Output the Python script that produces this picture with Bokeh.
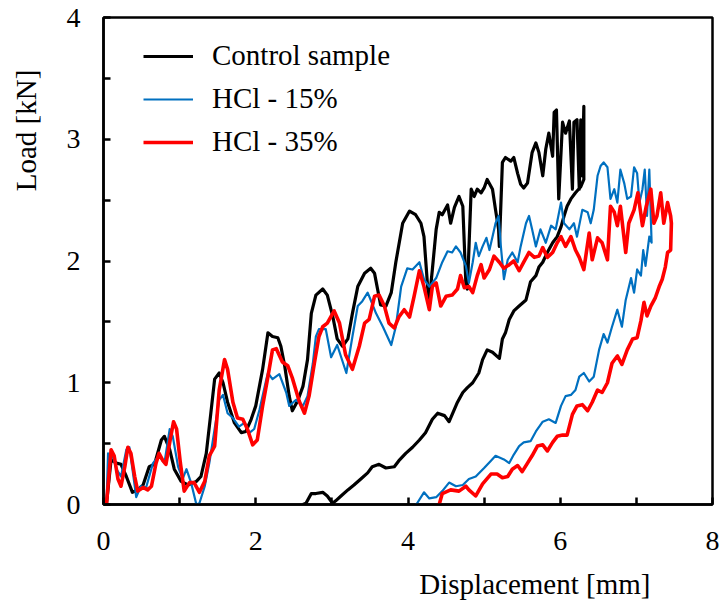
from bokeh.plotting import figure
from bokeh.models import FixedTicker, Legend, LegendItem, Range1d
from bokeh.embed import file_html
from bokeh.resources import INLINE

# ---------------- data (displacement [mm], load [kN]) ----------------
ctrl_x = [0, 0.04, 0.10, 0.17, 0.23, 0.30, 0.38, 0.45, 0.52, 0.60, 0.67, 0.76, 0.80, 0.87, 0.93,
          1.02, 1.11, 1.22, 1.28, 1.35, 1.41, 1.46, 1.52, 1.57, 1.63, 1.72, 1.81, 1.87, 1.94, 2.00,
          2.09, 2.16, 2.22, 2.29, 2.33, 2.38, 2.44, 2.48, 2.55, 2.62, 2.68, 2.73, 2.79, 2.88, 2.94,
          3.01, 3.07, 3.14, 3.21, 3.27, 3.34, 3.43, 3.51, 3.56, 3.60, 3.64, 3.71, 3.78, 3.84, 3.93,
          4.02, 4.10, 4.17, 4.21, 4.26, 4.28, 4.32, 4.37, 4.41, 4.45, 4.52, 4.56, 4.61, 4.67, 4.72,
          4.76, 4.78, 4.83, 4.87, 4.91, 4.96, 5.00, 5.04, 5.11, 5.15, 5.19, 5.20, 5.24, 5.28, 5.35,
          5.39, 5.44, 5.48, 5.52, 5.57, 5.63, 5.68, 5.72, 5.77, 5.81, 5.85, 5.90, 5.92, 5.95, 5.98,
          6.03, 6.07, 6.12, 6.16, 6.18, 6.22, 6.25, 6.27, 6.29, 6.31, 6.31,
          6.27, 6.20, 6.14, 6.09, 6.05, 6.01, 5.96, 5.90, 5.83, 5.77, 5.72, 5.68, 5.61, 5.55, 5.46,
          5.39, 5.33, 5.28, 5.24, 5.20, 5.11, 5.04, 4.98, 4.93, 4.85, 4.78, 4.72, 4.65, 4.54, 4.48,
          4.39, 4.32, 4.23, 4.15, 4.06, 3.97, 3.88, 3.82, 3.71, 3.62, 3.53, 3.47, 3.38, 3.29, 3.21,
          3.12, 3.05, 3.01, 2.94, 2.88, 2.79, 2.73, 2.66, 2.62]
ctrl_y = [0, 0.01, 0.37, 0.34, 0.33, 0.23, 0.10, 0.12, 0.16, 0.31, 0.33, 0.53, 0.56, 0.45, 0.29,
          0.19, 0.16, 0.19, 0.23, 0.42, 0.75, 1.03, 1.08, 1.00, 0.84, 0.67, 0.59, 0.60, 0.70, 0.81,
          1.11, 1.41, 1.38, 1.37, 1.30, 1.14, 0.89, 0.77, 0.85, 0.97, 1.19, 1.57, 1.72, 1.77, 1.72,
          1.55, 1.36, 1.30, 1.36, 1.57, 1.79, 1.90, 1.94, 1.90, 1.77, 1.64, 1.63, 1.74, 1.99, 2.31,
          2.41, 2.38, 2.31, 2.20, 1.77, 1.68, 1.93, 2.26, 2.40, 2.38, 2.46, 2.31, 2.44, 2.53, 2.45,
          1.82, 1.77, 2.59, 2.53, 2.59, 2.56, 2.60, 2.67, 2.59, 2.42, 2.26, 2.12, 2.81, 2.85, 2.82,
          2.85, 2.72, 2.63, 2.60, 2.64, 2.89, 2.97, 2.89, 2.70, 2.92, 3.05, 2.86, 3.22, 3.24, 2.51,
          3.14, 3.05, 3.15, 2.59, 3.14, 3.16, 2.59, 3.16, 2.70, 3.27, 2.67,
          2.61, 2.56, 2.51, 2.45, 2.37, 2.28, 2.20, 2.15, 2.07, 1.99, 1.95, 1.88, 1.83, 1.68, 1.63,
          1.59, 1.52, 1.41, 1.36, 1.20, 1.25, 1.27, 1.19, 1.08, 1.00, 0.96, 0.92, 0.84, 0.68, 0.73,
          0.75, 0.70, 0.59, 0.53, 0.47, 0.42, 0.36, 0.31, 0.30, 0.33, 0.31, 0.26, 0.21, 0.16, 0.12,
          0.07, 0.03, 0.01, 0.07, 0.10, 0.09, 0.09, 0.01, 0.0]

hcl15_x = [0, 0.04, 0.06, 0.12, 0.17, 0.23, 0.30, 0.34, 0.38, 0.43, 0.49, 0.56, 0.65, 0.73, 0.80,
           0.87, 0.91, 0.98, 1.04, 1.09, 1.15, 1.22, 1.26, 1.33, 1.39, 1.46, 1.52, 1.57, 1.63, 1.70,
           1.78, 1.85, 1.92, 1.98, 2.05, 2.14, 2.16, 2.22, 2.31, 2.40, 2.44, 2.53, 2.62, 2.68, 2.75,
           2.79, 2.83, 2.92, 2.99, 3.07, 3.19, 3.27, 3.34, 3.40, 3.47, 3.51, 3.58, 3.67, 3.78, 3.84,
           3.91, 3.99, 4.06, 4.15, 4.21, 4.28, 4.37, 4.45, 4.52, 4.58, 4.63, 4.69, 4.76, 4.80, 4.85,
           4.89, 4.93, 4.98, 5.03, 5.07, 5.11, 5.15, 5.19, 5.22, 5.26, 5.31, 5.37, 5.44, 5.48, 5.55,
           5.59, 5.63, 5.68, 5.74, 5.81, 5.88, 5.94, 6.01, 6.05, 6.12, 6.18, 6.22, 6.29, 6.36, 6.40,
           6.44, 6.49, 6.53, 6.57, 6.62, 6.66, 6.71, 6.75, 6.79, 6.84, 6.88, 6.93, 6.97, 7.01, 7.04,
           7.08, 7.11, 7.14, 7.17, 7.20,
           7.17, 7.12, 7.09, 7.06, 7.01, 6.97, 6.93, 6.86, 6.81, 6.75, 6.68, 6.62, 6.57, 6.51, 6.44,
           6.38, 6.31, 6.25, 6.20, 6.14, 6.07, 6.01, 5.94, 5.85, 5.77, 5.68, 5.61, 5.52, 5.46, 5.39,
           5.33, 5.26, 5.15, 5.09, 5.00, 4.89, 4.80, 4.72, 4.63, 4.54, 4.45, 4.37, 4.28, 4.21, 4.12,
           4.10]
hcl15_y = [0, 0.02, 0.42, 0.40, 0.29, 0.23, 0.45, 0.47, 0.29, 0.06, 0.15, 0.14, 0.34, 0.40, 0.34,
           0.62, 0.56, 0.31, 0.21, 0.29, 0.18, 0.0, 0.01, 0.15, 0.34, 0.62, 0.86, 0.90, 0.75, 0.71,
           0.64, 0.67, 0.59, 0.62, 0.78, 1.03, 1.08, 1.03, 1.07, 0.92, 0.81, 0.86, 0.81, 0.89, 1.16,
           1.38, 1.44, 1.44, 1.21, 1.31, 1.08, 1.38, 1.63, 1.67, 1.74, 1.68, 1.57, 1.46, 1.31, 1.46,
           1.79, 1.94, 1.93, 1.99, 1.85, 1.79, 1.86, 1.99, 2.08, 2.07, 2.12, 2.07, 1.96, 1.82, 1.99,
           2.15, 2.04, 2.12, 2.19, 2.09, 2.20, 2.31, 2.37, 2.12, 1.85, 2.01, 2.07, 1.99, 2.12, 2.31,
           2.37, 2.26, 2.12, 2.26, 2.15, 2.29, 2.26, 2.48, 2.31, 2.26, 2.31, 2.20, 2.42, 2.40, 2.31,
           2.42, 2.70, 2.78, 2.81, 2.77, 2.51, 2.59, 2.48, 2.75, 2.64, 2.51, 2.53, 2.77, 2.72, 2.48,
           2.59, 2.75, 2.37, 2.75, 2.15,
           2.20, 1.96, 2.09, 1.88, 1.93, 1.74, 1.86, 1.68, 1.46, 1.60, 1.46, 1.33, 1.40, 1.27, 1.05,
           1.01, 1.08, 1.05, 0.94, 0.90, 0.89, 0.81, 0.67, 0.70, 0.68, 0.60, 0.52, 0.51, 0.48, 0.41,
           0.34, 0.37, 0.40, 0.36, 0.30, 0.23, 0.21, 0.16, 0.15, 0.18, 0.11, 0.06, 0.05, 0.10, 0.01,
           0.0]

hcl35_x = [0, 0.04, 0.10, 0.14, 0.19, 0.23, 0.28, 0.32, 0.36, 0.41, 0.45, 0.52, 0.58, 0.63, 0.69,
           0.73, 0.78, 0.82, 0.87, 0.92, 0.96, 1.01, 1.06, 1.13, 1.19, 1.26, 1.33, 1.39, 1.46, 1.52,
           1.59, 1.63, 1.70, 1.76, 1.83, 1.89, 1.96, 2.02, 2.09, 2.16, 2.22, 2.27, 2.35, 2.42, 2.48,
           2.57, 2.64, 2.70, 2.77, 2.83, 2.88, 2.94, 3.03, 3.10, 3.18, 3.27, 3.36, 3.43, 3.49, 3.56,
           3.62, 3.69, 3.75, 3.82, 3.88, 3.95, 4.02, 4.08, 4.15, 4.21, 4.28, 4.32, 4.37, 4.43, 4.50,
           4.58, 4.65, 4.69, 4.74, 4.80, 4.85, 4.91, 4.96, 5.00, 5.07, 5.13, 5.20, 5.26, 5.33, 5.39,
           5.46, 5.52, 5.59, 5.66, 5.72, 5.77, 5.83, 5.90, 5.96, 6.01, 6.07, 6.14, 6.20, 6.25, 6.31,
           6.38, 6.42, 6.49, 6.55, 6.62, 6.66, 6.71, 6.75, 6.79, 6.86, 6.90, 6.97, 7.02, 7.08, 7.13,
           7.19, 7.23, 7.27, 7.32, 7.36, 7.41, 7.45, 7.46,
           7.45, 7.41, 7.38, 7.34, 7.30, 7.25, 7.19, 7.14, 7.10, 7.06, 7.01, 6.95, 6.88, 6.81, 6.75,
           6.68, 6.62, 6.55, 6.49, 6.42, 6.36, 6.29, 6.22, 6.16, 6.09, 6.03, 5.96, 5.90, 5.83, 5.77,
           5.70, 5.63, 5.57, 5.50, 5.44, 5.37, 5.31, 5.24, 5.17, 5.09, 4.98, 4.89, 4.80, 4.76, 4.67,
           4.56, 4.45, 4.41]
hcl35_y = [0, 0.01, 0.45, 0.40, 0.21, 0.15, 0.31, 0.47, 0.42, 0.23, 0.11, 0.14, 0.12, 0.15, 0.34,
           0.42, 0.36, 0.33, 0.51, 0.68, 0.62, 0.34, 0.11, 0.18, 0.18, 0.10, 0.19, 0.40, 0.48, 0.94,
           1.19, 1.11, 0.84, 0.71, 0.70, 0.62, 0.49, 0.53, 0.81, 1.05, 1.27, 1.28, 1.17, 1.14, 1.04,
           0.85, 0.75, 0.89, 1.16, 1.38, 1.46, 1.49, 1.59, 1.49, 1.23, 1.11, 1.30, 1.49, 1.52, 1.71,
           1.72, 1.63, 1.49, 1.45, 1.54, 1.60, 1.54, 1.71, 1.92, 1.79, 1.60, 1.79, 1.82, 1.63, 1.71,
           1.72, 1.77, 1.88, 1.78, 1.79, 1.74, 1.88, 1.97, 1.86, 1.93, 2.04, 1.99, 1.94, 1.97, 2.00,
           1.92, 1.99, 2.07, 2.03, 2.04, 2.11, 2.03, 2.07, 2.15, 2.20, 2.12, 2.20, 2.09, 2.03, 1.93,
           2.23, 2.01, 2.19, 2.15, 2.01, 2.45, 2.40, 2.29, 2.45, 2.07, 2.31, 2.42, 2.56, 2.29, 2.45,
           2.59, 2.31, 2.37, 2.56, 2.31, 2.48, 2.37, 2.31,
           2.09, 2.07, 1.95, 1.85, 1.79, 1.70, 1.63, 1.55, 1.66, 1.51, 1.37, 1.36, 1.27, 1.15, 1.22,
           1.16, 1.00, 0.92, 0.94, 0.84, 0.77, 0.82, 0.81, 0.74, 0.57, 0.57, 0.56, 0.51, 0.44, 0.49,
           0.48, 0.40, 0.34, 0.27, 0.32, 0.29, 0.23, 0.22, 0.25, 0.25, 0.17, 0.07, 0.12, 0.15, 0.11,
           0.12, 0.09, 0.0]

series_names = ["Control sample", "HCl - 15%", "HCl - 35%"]
x_ticks = [0, 2, 4, 6, 8]
x_minor = [1, 3, 5, 7]
y_ticks = [0, 1, 2, 3, 4]
y_minor = [0.5, 1.5, 2.5, 3.5]
x_title = "Displacement [mm]"
y_title = "Load [kN]"

# ---------------- figure ----------------
SERIF = "Liberation Serif"
NBSP = "\u00a0"
p = figure(width=720, height=604, output_backend="svg", toolbar_location=None,
           x_range=Range1d(0, 8), y_range=Range1d(0, 4),
           min_border_left=103, min_border_right=8, min_border_top=17, min_border_bottom=100)
p.background_fill_color = "white"
p.border_fill_color = "white"
p.outline_line_color = "black"
p.outline_line_width = 2.5
p.xgrid.visible = False
p.ygrid.visible = False

r_ctrl = p.line(ctrl_x, ctrl_y, line_color="black", line_width=3.2, line_join="round")
r_15 = p.line(hcl15_x, hcl15_y, line_color="#0070C0", line_width=2.2, line_join="round")
r_35 = p.line(hcl35_x, hcl35_y, line_color="#FF0000", line_width=3.6, line_join="round")

for ax, ticks, minor in ((p.xaxis, x_ticks, x_minor), (p.yaxis, y_ticks, y_minor)):
    ax.ticker = FixedTicker(ticks=ticks, minor_ticks=minor)
    ax.axis_line_color = "black"
    ax.axis_line_width = 2.5
    ax.major_tick_line_color = "black"
    ax.minor_tick_line_color = "black"
    ax.major_tick_line_width = 2.5
    ax.minor_tick_line_width = 2.5
    ax.major_tick_in = 7
    ax.major_tick_out = 0
    ax.minor_tick_in = 7
    ax.minor_tick_out = 0
    ax.major_label_text_font = SERIF
    ax.major_label_text_font_size = "28px"
    ax.major_label_text_color = "black"
    ax.axis_label_text_font = SERIF
    ax.axis_label_text_font_size = "29px"
    ax.axis_label_text_font_style = "normal"
    ax.axis_label_text_color = "black"

p.xaxis.major_label_standoff = 27
p.yaxis.major_label_standoff = 23

# axis titles sit off-centre in the reference: shift them with leading no-break spaces
p.xaxis.axis_label = NBSP * 35 + x_title
p.yaxis.axis_label = NBSP * 36 + y_title
p.xaxis.axis_label_standoff = 15
p.yaxis.axis_label_standoff = 22

legend = Legend(items=[LegendItem(label=series_names[0], renderers=[r_ctrl]),
                       LegendItem(label=series_names[1], renderers=[r_15]),
                       LegendItem(label=series_names[2], renderers=[r_35])],
                location=(40, 346), margin=0, padding=0, spacing=10,
                glyph_width=50, glyph_height=30, label_height=30, label_standoff=19,
                border_line_alpha=0, background_fill_alpha=0,
                label_text_font=SERIF, label_text_font_size="29px", label_text_color="black")
p.add_layout(legend, "center")

open("out.html", "w").write(file_html(p, INLINE))
